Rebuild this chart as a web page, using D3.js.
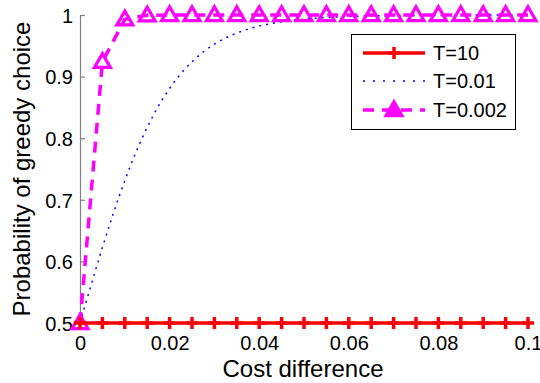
<!DOCTYPE html>
<html>
<head>
<meta charset="utf-8">
<script src="https://cdn.jsdelivr.net/npm/d3@7"></script>
<style>
  html, body { margin: 0; padding: 0; background: #fff; }
  svg { display: block; font-family: "Liberation Sans", Arial, sans-serif; }
</style>
</head>
<body>
<svg id="chart" width="540" height="383"></svg>
<script>
// Cost difference sample points for the marker series
const costMarkers = [0, 0.005, 0.01, 0.015, 0.02, 0.025, 0.03, 0.035, 0.04, 0.045, 0.05,
  0.055, 0.06, 0.065, 0.07, 0.075, 0.08, 0.085, 0.09, 0.095, 0.1];
// T = 10 : flat at one half
const probT10 = [0.5, 0.5, 0.5, 0.5, 0.5, 0.5, 0.5, 0.5, 0.5, 0.5, 0.5,
  0.5, 0.5, 0.5, 0.5, 0.5, 0.5, 0.5, 0.5, 0.5, 0.5];
// T = 0.002 : jumps to one almost immediately
const probT0002 = [0.5, 0.924, 0.993, 0.9994, 1, 1, 1, 1, 1, 1, 1,
  1, 1, 1, 1, 1, 1, 1, 1, 1, 1];
// T = 0.01 : smooth saturating curve
const costSmooth = [0, 0.0025, 0.005, 0.0075, 0.01, 0.0125, 0.015, 0.0175, 0.02, 0.0225, 0.025,
  0.0275, 0.03, 0.0325, 0.035, 0.0375, 0.04, 0.0425, 0.045, 0.0475, 0.05,
  0.055, 0.06, 0.065, 0.07, 0.08, 0.09, 0.1];
const probT001 = [0.5, 0.5622, 0.6225, 0.6792, 0.7311, 0.7773, 0.8176, 0.852, 0.8808, 0.9047, 0.9241,
  0.9399, 0.9526, 0.9627, 0.9707, 0.977, 0.982, 0.9859, 0.989, 0.9914, 0.9933,
  0.9959, 0.9975, 0.9985, 0.9991, 0.9997, 0.9999, 1.0];

const xTicks = [0, 0.02, 0.04, 0.06, 0.08, 0.1];
const yTicks = [0.5, 0.6, 0.7, 0.8, 0.9, 1];
const seriesNames = ["T=10", "T=0.01", "T=0.002"];

const svg = d3.select("#chart");
const x = d3.scaleLinear().domain([0, 0.1]).range([80, 528]);
const y = d3.scaleLinear().domain([0.5, 1]).range([323, 15]);

// axes: grey, ticks pointing into the plot
const yAxis = svg.append("g").attr("transform", "translate(80,0)")
  .call(d3.axisLeft(y).tickValues(yTicks).tickSizeInner(-5).tickSizeOuter(0)
    .tickPadding(7).tickFormat(d => d3.format("")(+d.toFixed(1))));
const xAxis = svg.append("g").attr("transform", "translate(0,323)")
  .call(d3.axisBottom(x).tickValues(xTicks).tickSizeInner(-5).tickSizeOuter(0)
    .tickPadding(13).tickFormat(d => d3.format("")(+d.toFixed(2))));
[yAxis, xAxis].forEach(g => {
  g.select(".domain").attr("stroke", "#808080").attr("stroke-width", 1.2);
  g.selectAll(".tick line").attr("stroke", "#808080").attr("stroke-width", 1.2);
  g.selectAll(".tick text").attr("fill", "#000").attr("font-size", 20)
    .attr("font-family", "Liberation Sans, Arial, sans-serif");
});
yAxis.selectAll(".tick text").attr("dy", "0.36em");
xAxis.selectAll(".tick text").attr("dy", "0.71em");

// axis titles
svg.append("text").attr("x", 303).attr("y", 377).attr("text-anchor", "middle")
  .attr("font-size", 24).text("Cost difference");
svg.append("text").attr("transform", "translate(30,169) rotate(-90)")
  .attr("text-anchor", "middle").attr("font-size", 24).text("Probability of greedy choice");

const line = d3.line().x(d => x(d[0])).y(d => y(d[1]));

// T = 0.01 dotted blue
svg.append("path").datum(costSmooth.map((c, i) => [c, probT001[i]]))
  .attr("d", d3.line().x(d => x(d[0])).y(d => y(d[1])).curve(d3.curveMonotoneX))
  .attr("fill", "none").attr("stroke", "#0000ff").attr("stroke-width", 1.5)
  .attr("stroke-dasharray", "2,5");

// T = 0.002 dashed magenta with triangle markers
const magData = costMarkers.map((c, i) => [c, probT0002[i]]);
svg.append("path").datum(magData).attr("d", line)
  .attr("fill", "none").attr("stroke", "#ff00ff").attr("stroke-width", 3.5)
  .attr("stroke-dasharray", "11,8");
const tri = d3.symbol().type(d3.symbolTriangle).size(110);
svg.append("g").selectAll("path").data(magData).join("path")
  .attr("transform", d => `translate(${x(d[0])},${y(d[1]) + 1})`)
  .attr("d", tri).attr("fill", "none").attr("stroke", "#ff00ff").attr("stroke-width", 3.2)
  .attr("stroke-linejoin", "miter");

// T = 10 solid red with plus markers
const redData = costMarkers.map((c, i) => [c, probT10[i]]);
svg.append("path").datum(redData).attr("d", line)
  .attr("fill", "none").attr("stroke", "#ff0000").attr("stroke-width", 3.5);
const plus = "M-6,0H6M0,-6V6";
svg.append("g").selectAll("path").data(redData).join("path")
  .attr("transform", d => `translate(${x(d[0])},${y(d[1])})`)
  .attr("d", plus).attr("fill", "none").attr("stroke", "#ff0000").attr("stroke-width", 3.5);

// legend
const lg = svg.append("g");
lg.append("rect").attr("x", 351.5).attr("y", 34.5).attr("width", 164).attr("height", 95)
  .attr("fill", "#fff").attr("stroke", "#000").attr("stroke-width", 1);
const rows = [53, 81, 110];
lg.append("line").attr("x1", 363).attr("x2", 425).attr("y1", rows[0]).attr("y2", rows[0])
  .attr("stroke", "#ff0000").attr("stroke-width", 3.5);
lg.append("path").attr("transform", `translate(394,${rows[0]})`).attr("d", plus)
  .attr("stroke", "#ff0000").attr("stroke-width", 3.5);
lg.append("line").attr("x1", 363).attr("x2", 425).attr("y1", rows[1]).attr("y2", rows[1])
  .attr("stroke", "#0000ff").attr("stroke-width", 1.5).attr("stroke-dasharray", "2,8");
lg.append("line").attr("x1", 363).attr("x2", 425).attr("y1", rows[2]).attr("y2", rows[2])
  .attr("stroke", "#ff00ff").attr("stroke-width", 3.5).attr("stroke-dasharray", "11,8");
lg.append("path").attr("transform", `translate(394,${rows[2] + 1})`).attr("d", tri)
  .attr("fill", "#ff00ff").attr("stroke", "#ff00ff").attr("stroke-width", 3.2);
lg.selectAll("text.lab").data(seriesNames).join("text").attr("class", "lab")
  .attr("x", 433).attr("y", (d, i) => rows[i]).attr("dy", "0.36em")
  .attr("font-size", 20).text(d => d);
</script>
</body>
</html>
